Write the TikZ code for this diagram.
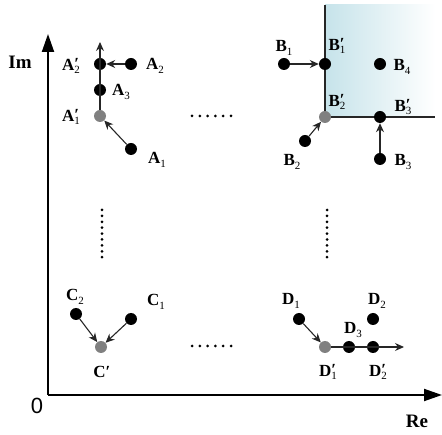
\documentclass[tikz,border=0pt]{standalone}
\usepackage{fontspec}
\setmainfont{Liberation Serif}
\newfontfamily\zerofont{Liberation Sans}
\usetikzlibrary{arrows.meta}
\definecolor{regblue}{RGB}{198,227,234}
\definecolor{dotgray}{RGB}{128,128,128}
\newcommand{\subd}[1]{\raisebox{-0.42ex}{\fontsize{11}{10}\selectfont\mdseries #1}}
\newcommand{\lb}[2]{\textbf{#1}\subd{#2}}
\newcommand{\lbp}[2]{\textbf{#1}\rlap{\raisebox{0.1ex}{\bfseries\char"2032}}\subd{#2}}
\tikzset{
  pt/.style={circle,fill=black,inner sep=0pt,minimum size=12pt},
  gpt/.style={circle,fill=dotgray,inner sep=0pt,minimum size=12pt},
  lbl/.style={inner sep=0pt,font=\fontsize{17}{20}\selectfont},
  axlbl/.style={inner sep=0pt,font=\fontsize{19}{22}\selectfont\bfseries},
  arr/.style={line width=1.1pt,draw=black!85,-{Stealth[length=9pt,width=8pt]}},
  axis/.style={line width=2pt,-{Triangle[length=18pt,width=12pt]}},
  edge/.style={line width=1.2pt,draw=black!85},
  ell/.style={circle,fill=black,inner sep=0pt,minimum size=3pt}
}
\begin{document}
\begin{tikzpicture}[x=1pt,y=-1pt]
\useasboundingbox (0,0) rectangle (442,435);
% shaded region
\shade[left color=regblue,right color=white] (325,5) rectangle (435,117);
% axes
\coordinate (O) at (48,395);
\coordinate (Ytop) at (48,34);
\coordinate (Xend) at (442,395);
\draw[axis] (O) -- (Ytop);
\draw[axis] (O) -- (Xend);
\node[axlbl] (Im) at (20,62) {Im};
\node[axlbl] (Re) at (417,421) {Re};
\node[inner sep=0pt,font=\fontsize{22}{24}\selectfont\zerofont] (zero) at (37,406) {0};
% region boundary
\coordinate (Btop) at (325,5);
\coordinate (Bcorner) at (325,117);
\coordinate (Bright) at (435,117);
\draw[edge] (Btop) -- (Bcorner) -- (Bright);
% A group
\node[pt] (A2p) at (100,64) {};
\node[pt] (A2) at (131,64) {};
\node[pt] (A3) at (100,90) {};
\node[gpt] (A1p) at (100,116) {};
\node[pt] (A1) at (131,149) {};
\coordinate (Atop) at (100,42);
\draw[arr] (A1p) -- (Atop);
\draw[arr] (A2) -- (A2p);
\draw[arr] (A1) -- (A1p);
\node[lbl] (lA2p) at (71,66) {\lbp{A}{2}};
\node[lbl] (lA2) at (155,66) {\lb{A}{2}};
\node[lbl] (lA3) at (121,92) {\lb{A}{3}};
\node[lbl] (lA1p) at (71,117) {\lbp{A}{1}};
\node[lbl] (lA1) at (157,160) {\lb{A}{1}};
% B group
\node[pt] (B1) at (284,64) {};
\node[pt] (B1p) at (325,64) {};
\node[pt] (B4) at (380,64) {};
\node[gpt] (B2p) at (325,117) {};
\node[pt] (B2) at (305,141) {};
\node[pt] (B3p) at (380,117) {};
\node[pt] (B3) at (380,159) {};
\draw[arr] (B1) -- (B1p);
\draw[arr] (B2) -- (B2p);
\draw[arr] (B3) -- (B3p);
\node[lbl] (lB1) at (284,48) {\lb{B}{1}};
\node[lbl] (lB1p) at (337,46) {\lbp{B}{1}};
\node[lbl] (lB4) at (402,67) {\lb{B}{4}};
\node[lbl] (lB2p) at (337,102) {\lbp{B}{2}};
\node[lbl] (lB3p) at (403,107) {\lbp{B}{3}};
\node[lbl] (lB2) at (292,162) {\lb{B}{2}};
\node[lbl] (lB3) at (403,162) {\lb{B}{3}};
% C group
\node[pt] (C2) at (76,314) {};
\node[pt] (C1) at (131,319) {};
\node[gpt] (Cp) at (101,347) {};
\draw[arr] (C2) -- (Cp);
\draw[arr] (C1) -- (Cp);
\node[lbl] (lC2) at (75,297) {\lb{C}{2}};
\node[lbl] (lC1) at (156,302) {\lb{C}{1}};
\node[lbl] (lCp) at (102,372) {\textbf{C}{\bfseries\char"2032}};
% D group
\node[pt] (D1) at (299,319) {};
\node[gpt] (D1p) at (325,347) {};
\node[pt] (D3) at (349,347) {};
\node[pt] (D2p) at (373,347) {};
\node[pt] (D2) at (373,319) {};
\coordinate (Dend) at (404,347);
\draw[arr] (D1p) -- (Dend);
\draw[arr] (D1) -- (D1p);
\node[lbl] (lD1) at (291,301) {\lb{D}{1}};
\node[lbl] (lD2) at (377,301) {\lb{D}{2}};
\node[lbl] (lD3) at (353,330) {\lb{D}{3}};
\node[lbl] (lD1p) at (328,372) {\lbp{D}{1}};
\node[lbl] (lD2p) at (378,372) {\lbp{D}{2}};
% ellipses
\foreach \i in {0,...,5} {
  \node[ell] at (192+7.8*\i,116) {};
  \node[ell] at (192+7.8*\i,346) {};
}
\foreach \i in {0,...,8} {
  \node[ell] at (102,210+5.9*\i) {};
  \node[ell] at (327,210+5.9*\i) {};
}
\end{tikzpicture}
\end{document}
